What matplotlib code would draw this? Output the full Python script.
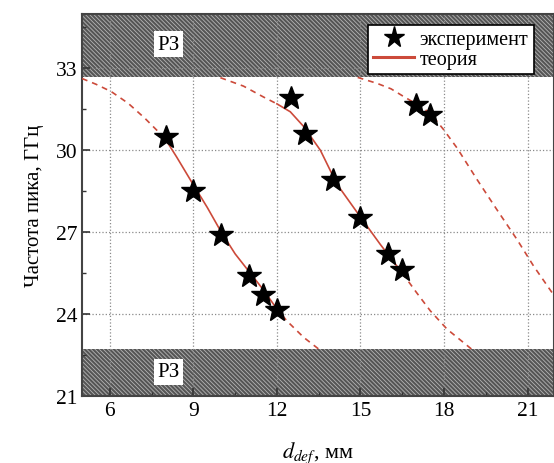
import matplotlib
matplotlib.use("Agg")
import matplotlib.pyplot as plt
from matplotlib.ticker import MultipleLocator

# experiment (stars)
exp_x = [8.0, 9.0, 10.0, 11.0, 11.5, 12.0,
         12.5, 13.0, 14.0, 15.0, 16.0, 16.5,
         17.0, 17.5]
exp_y = [30.5, 28.5, 26.9, 25.4, 24.7, 24.15,
         31.9, 30.6, 28.9, 27.5, 26.2, 25.6,
         31.65, 31.3]

# theory, curve 1
th1_pre_x = [5.0, 5.5, 6.05, 6.66, 7.26, 7.74, 8.0]
th1_pre_y = [32.63, 32.42, 32.15, 31.72, 31.17, 30.68, 30.4]
th1_x = [8.0, 8.4, 8.9, 9.5, 10.0, 10.5, 11.0, 11.5, 11.95]
th1_y = [30.4, 29.75, 28.9, 27.9, 27.0, 26.2, 25.55, 24.9, 24.25]
th1_post_x = [11.95, 12.36, 12.96, 13.5]
th1_post_y = [24.25, 23.74, 23.14, 22.71]

# theory, curve 2
th2_pre_x = [9.97, 10.8, 11.52, 12.0]
th2_pre_y = [32.66, 32.35, 31.95, 31.7]
th2_x = [12.0, 12.48, 12.96, 13.56, 14.16, 15.0, 15.71, 16.31, 16.5]
th2_y = [31.7, 31.41, 30.87, 30.0, 28.75, 27.55, 26.55, 25.75, 25.5]
th2_post_x = [16.5, 17.0, 17.51, 18.11, 19.06]
th2_post_y = [25.5, 24.8, 24.11, 23.44, 22.65]

# theory, curve 3 (dashed only)
th3_x = [14.9, 15.6, 16.1, 16.5, 17.0, 17.51, 17.99, 18.47, 19.19,
         19.9, 20.62, 21.22, 21.88, 22.0]
th3_y = [32.67, 32.45, 32.25, 32.0, 31.7, 31.36, 30.75, 30.08, 28.92,
         27.82, 26.73, 25.75, 24.78, 24.6]

# forbidden zones
zone_low = (21.0, 22.7)
zone_high = (32.7, 35.0)
zone_label = "РЗ"

plt.rcParams['font.family'] = ['Liberation Serif', 'DejaVu Serif']
plt.rcParams['hatch.linewidth'] = 0.6
plt.rcParams['mathtext.fontset'] = 'stix'

red = '#cc4a3a'

fig = plt.figure(figsize=(5.54, 4.64), dpi=100)
ax = fig.add_axes([0.148, 0.145, 0.852, 0.823])

for lo, hi in [zone_low, zone_high]:
    ax.axhspan(lo, hi, facecolor='#555555', edgecolor='#b5b5b5',
               hatch='\\' * 8, linewidth=0, zorder=1)

ax.grid(True, which='major', linestyle=':', color='#8a8a8a', linewidth=0.9)

dash = dict(color=red, linewidth=1.2, linestyle=(0, (3.5, 3)), zorder=3)
solid = dict(color=red, linewidth=1.2, zorder=3)
ax.plot(th1_pre_x, th1_pre_y, **dash)
ax.plot(th1_x, th1_y, **solid)
ax.plot(th1_post_x, th1_post_y, **dash)
ax.plot(th2_pre_x, th2_pre_y, **dash)
ax.plot(th2_x, th2_y, **solid)
ax.plot(th2_post_x, th2_post_y, **dash)
ax.plot(th3_x, th3_y, **dash)

ax.plot(exp_x, exp_y, linestyle='none', marker='*', markersize=18,
        color='black', zorder=5, label='эксперимент')
ax.plot([], [], color=red, linewidth=2.2, label='теория')

for yy in [33.89, 21.87]:
    ax.text(8.1, yy, zone_label, ha='center', va='center', fontsize=15,
            zorder=6, bbox=dict(facecolor='white', edgecolor='none', pad=2.5))

ax.set_xlim(5, 21.95)
ax.set_ylim(21, 35)
ax.set_xticks([6, 9, 12, 15, 18, 21])
ax.set_yticks([21, 24, 27, 30, 33])
ax.xaxis.set_minor_locator(MultipleLocator(1.5))
ax.yaxis.set_minor_locator(MultipleLocator(1.5))
ax.tick_params(which='major', direction='in', length=6, width=1.2,
               labelsize=15.5, color='#333333')
ax.tick_params(which='minor', direction='in', length=3, width=1.0,
               color='#333333')
for s in ax.spines.values():
    s.set_linewidth(1.5)
    s.set_color('#444444')

ax.set_xlabel('$d_{def}$, мм', fontsize=16, labelpad=14)
ax.set_ylabel('Частота пика, ГГц', fontsize=15, labelpad=8)

leg = ax.legend(loc='upper right', bbox_to_anchor=(0.978, 0.997),
                fontsize=14.5, frameon=True, fancybox=False,
                edgecolor='black', framealpha=1, handlelength=2.0,
                handletextpad=0.3, borderpad=0.25, labelspacing=0.05,
                markerscale=0.85)
leg.get_frame().set_linewidth(1.2)
leg.set_zorder(10)

plt.savefig("out.png", dpi=100)
